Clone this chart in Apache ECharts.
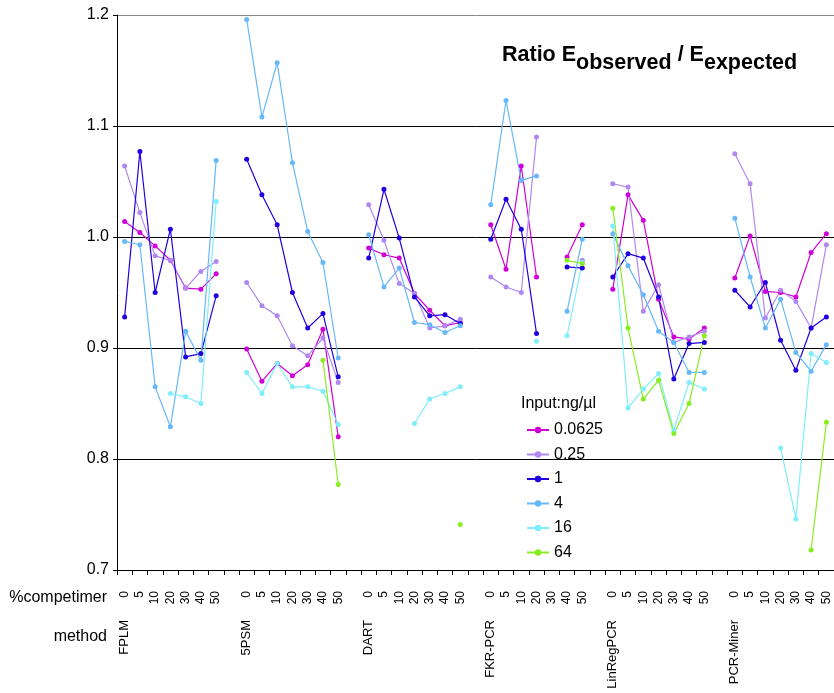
<!DOCTYPE html>
<html><head><meta charset="utf-8">
<script src="https://cdn.jsdelivr.net/npm/echarts@6/dist/echarts.min.js"></script>
<style>html,body{margin:0;padding:0;background:#fff}#c{width:834px;height:693px}</style>
</head><body><div id="c"></div>
<script>
const methods = ['FPLM','5PSM','DART','FKR-PCR','LinRegPCR','PCR-Miner'];
const competimer = ['0','5','10','20','30','40','50'];
const yTicks = [0.7, 0.8, 0.9, 1.0, 1.1, 1.2];
const inputs = ['0.0625','0.25','1','4','16','64'];

// values: 7 per method (0,5,10,20,30,40,50 % competimer), methods in order above
const v0625 = [
 1.014,1.004,0.992,0.979,0.954,0.953,0.967,
 0.899,0.870,0.886,0.875,0.885,0.917,0.820,
 0.990,0.984,0.981,0.949,0.934,0.920,0.923,
 1.011,0.971,1.064,0.964,null,0.982,1.011,
 0.953,1.038,1.015,0.944,0.910,0.908,0.918,
 0.963,1.001,0.951,0.950,0.946,0.986,1.003];
const v025 = [
 1.064,1.022,0.983,0.979,0.954,0.969,0.978,
 0.959,0.938,0.929,0.902,0.893,0.909,0.869,
 1.029,0.997,0.958,0.949,0.918,0.920,0.926,
 0.964,0.955,0.950,1.090,null,null,0.979,
 1.048,1.045,0.933,0.957,0.905,0.910,0.915,
 1.075,1.048,0.927,0.952,0.942,0.918,0.993];
const v1 = [
 0.928,1.077,0.950,1.007,0.892,0.895,0.947,
 1.070,1.038,1.011,0.950,0.918,0.931,0.874,
 0.981,1.043,0.999,0.946,0.929,0.930,0.922,
 0.998,1.034,1.007,0.913,null,0.973,0.972,
 0.964,0.985,0.981,0.946,0.872,0.904,0.905,
 0.952,0.937,0.959,0.907,0.880,0.918,0.928];
const v4 = [
 0.996,0.993,0.865,0.829,0.915,0.889,1.069,
 1.196,1.108,1.157,1.067,1.005,0.977,0.891,
 1.002,0.955,0.972,0.923,0.921,0.914,0.920,
 1.029,1.123,1.051,1.055,null,0.933,0.998,
 1.003,0.974,0.948,0.915,0.905,0.878,0.878,
 1.017,0.964,0.918,0.944,0.896,0.879,0.903];
const v16 = [
 null,null,null,0.859,0.856,0.850,1.032,
 0.878,0.859,0.886,0.865,0.865,0.861,0.831,
 null,null,null,0.832,0.854,0.859,0.865,
 null,null,null,0.906,null,0.911,0.977,
 1.010,0.846,0.863,0.877,0.826,0.869,0.863,
 null,null,null,0.810,0.746,0.895,0.887];
const v64 = [
 null,null,null,null,null,null,null,
 null,null,null,null,null,0.889,0.777,
 null,null,null,null,null,null,0.741,
 null,null,null,null,null,0.979,0.976,
 1.026,0.918,0.854,0.871,0.823,0.850,0.911,
 null,null,null,null,null,0.718,0.833];
const colors = ['#D000D8','#B088F0','#2000E0','#66B8F8','#7EEEFA','#88EE22'];

const FONT = 'Liberation Sans, Arial, Helvetica, sans-serif';

// categories: 7 per method with a blank separator between methods
const categories = [];
const methodAt = {};
methods.forEach((m, i) => {
  methodAt[categories.length] = m;
  competimer.forEach(c => categories.push(c));
  if (i < methods.length - 1) categories.push(' ');
});
function expand(arr) {
  const out = [];
  methods.forEach((m, i) => {
    for (let j = 0; j < 7; j++) out.push(arr[i * 7 + j]);
    if (i < methods.length - 1) out.push(null);
  });
  return out;
}
const allVals = [v0625, v025, v1, v4, v16, v64];

// title pieces laid out using measured text widths
const ctx = document.createElement('canvas').getContext('2d');
function w(t, size) { ctx.font = 'bold ' + size + 'px ' + FONT; return ctx.measureText(t).width; }
const titleParts = [
  {t: 'Ratio E', s: 21.5, dy: 0},
  {t: 'observed', s: 21.5, dy: 8},
  {t: ' / E', s: 21.5, dy: 0},
  {t: 'expected', s: 21.5, dy: 8}
];
let tx = 502;
const titleEls = titleParts.map(p => {
  const el = {type: 'text', left: tx, top: 44 + p.dy,
    style: {text: p.t, font: 'bold ' + p.s + 'px ' + FONT, fill: '#000'}};
  tx += w(p.t, p.s);
  return el;
});

const chart = echarts.init(document.getElementById('c'), null, {renderer: 'canvas'});
chart.setOption({
  animation: false,
  backgroundColor: '#fff',
  grid: {left: 117, top: 15, width: 723, height: 555, containLabel: false},
  xAxis: [{
    type: 'category', data: categories, boundaryGap: true,
    axisLine: {show: true, lineStyle: {color: '#000', width: 1}},
    axisTick: {show: true, length: 5, lineStyle: {color: '#000'}},
    axisLabel: {interval: 0, rotate: 90, margin: 21, fontSize: 12, color: '#000', fontFamily: FONT},
    splitLine: {show: false}
  }, {
    type: 'category', data: categories, boundaryGap: true, position: 'bottom',
    axisLine: {show: false}, axisTick: {show: false},
    axisLabel: {interval: 0, rotate: 90, margin: 50, fontSize: 13, color: '#000', fontFamily: FONT,
      formatter: (v, i) => methodAt[i] || ''},
    splitLine: {show: false}
  }],
  yAxis: {
    type: 'value', min: yTicks[0], max: yTicks[yTicks.length - 1], interval: 0.1,
    axisLine: {show: true, lineStyle: {color: '#000'}},
    axisTick: {show: true, length: 4, lineStyle: {color: '#000'}},
    axisLabel: {fontSize: 16, color: '#000', margin: 8, fontFamily: FONT,
      formatter: v => v.toFixed(1)},
    splitLine: {show: true, lineStyle: {color: ['#000','#000','#000','#000','#000','#888'], width: 1}}
  },
  legend: {
    orient: 'vertical', left: 521, top: 417, itemWidth: 22, itemHeight: 8, itemGap: 8.5,
    data: inputs,
    textStyle: {fontSize: 16, color: '#000', fontFamily: FONT, lineHeight: 16}
  },
  graphic: [
    {type: 'text', right: 834 - 107, top: 590, style: {text: '%competimer', font: '16px ' + FONT, fill: '#000'}},
    {type: 'text', right: 834 - 107, top: 629, style: {text: 'method', font: '16px ' + FONT, fill: '#000'}},
    {type: 'text', left: 521, top: 396, style: {text: 'Input:ng/µl', font: '16px ' + FONT, fill: '#000'}}
  ].concat(titleEls),
  series: inputs.map((name, k) => ({
    name, type: 'line', xAxisIndex: 0,
    data: expand(allVals[k]),
    connectNulls: false, showSymbol: true, showAllSymbol: true,
    symbol: 'circle', symbolSize: 5,
    lineStyle: {width: 1.2, color: colors[k]},
    itemStyle: {color: colors[k]},
    emphasis: {disabled: true}
  }))
});
</script></body></html>
